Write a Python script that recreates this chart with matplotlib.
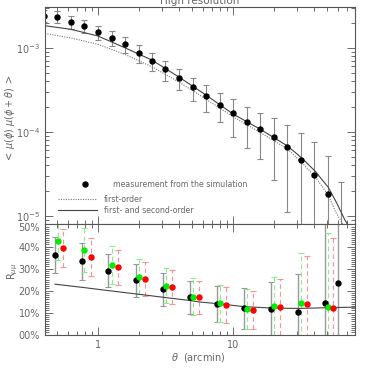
import numpy as np
import matplotlib
matplotlib.use("Agg")
import matplotlib.pyplot as plt
import matplotlib.transforms as mtransforms
from matplotlib.lines import Line2D
from matplotlib.ticker import LogLocator, FixedLocator, MultipleLocator, NullFormatter, FuncFormatter

#### data ####
# top panel: aperture-mass-like correlation <mu(phi) mu(phi+theta)>
theta_sim = [0.40, 0.50, 0.63, 0.79, 1.00, 1.26, 1.58, 2.00, 2.51, 3.16, 3.98, 5.01,
             6.31, 7.94, 10.0, 12.6, 15.8, 20.0, 25.1, 31.6, 39.8, 50.1, 63.1]
mu_sim = [2.40e-3, 2.34e-3, 2.04e-3, 1.81e-3, 1.54e-3, 1.32e-3, 1.10e-3, 8.7e-4,
          6.95e-4, 5.53e-4, 4.32e-4, 3.38e-4, 2.66e-4, 2.10e-4, 1.66e-4, 1.32e-4,
          1.07e-4, 8.6e-5, 6.6e-5, 4.6e-5, 3.1e-5, 1.8e-5, 3.0e-6]
mu_err = [3.8e-4, 3.7e-4, 3.6e-4, 3.3e-4, 3.0e-4, 2.6e-4, 2.4e-4, 2.1e-4, 1.7e-4,
          1.5e-4, 1.2e-4, 1.05e-4, 9.3e-5, 7.8e-5, 7.8e-5, 6.8e-5, 5.9e-5, 5.9e-5,
          5.5e-5, 5.2e-5, 4.4e-5, 3.3e-5, 2.2e-5]

theta_2nd = [0.405, 0.631, 1.0, 1.585, 2.51, 3.98, 6.31, 10.0, 15.8, 25.4, 31.9,
             40.3, 50.8, 58.6, 67.4, 70.3, 74.0]
mu_2nd = [1.83e-3, 1.66e-3, 1.38e-3, 1.0e-3, 7.14e-4, 4.48e-4, 2.74e-4, 1.63e-4,
          1.08e-4, 6.76e-5, 4.96e-5, 3.44e-5, 2.18e-5, 1.42e-5, 8.9e-6, 8.0e-6, 6.0e-6]

theta_1st = [0.405, 0.631, 1.0, 1.585, 2.51, 3.98, 6.31, 10.0, 15.8, 25.4, 31.9,
             40.3, 50.8, 57.5, 64.0, 68.0]
mu_1st = [1.48e-3, 1.31e-3, 1.10e-3, 8.35e-4, 5.94e-4, 3.91e-4, 2.45e-4, 1.51e-4,
          9.9e-5, 6.22e-5, 4.4e-5, 2.97e-5, 1.76e-5, 1.11e-5, 8.4e-6, 6.0e-6]

# bottom panel: R_mumu in percent
theta_black = [0.48, 0.757, 1.19, 1.90, 3.01, 4.80, 7.65, 12.1, 19.1, 30.1, 48.0, 60.3]
R_black = [36.2, 33.2, 29.1, 24.7, 20.6, 16.9, 14.0, 11.9, 11.6, 10.4, 14.2, 23.3]
R_black_err = [8.2, 8.2, 7.7, 7.5, 7.5, 7.5, 8.2, 9.3, 12.2, 17.1, 40.0, 45.0]

theta_green = [0.508, 0.792, 1.28, 2.01, 3.19, 5.08, 8.01, 12.6, 20.1, 31.9, 50.8]
R_green = [42.7, 38.5, 31.6, 26.3, 22.2, 17.2, 14.2, 11.5, 12.8, 14.2, 12.4]
R_green_err = [9.0, 10.0, 8.7, 8.0, 8.0, 8.3, 8.5, 9.0, 13.2, 22.8, 33.7]

theta_red = [0.553, 0.883, 1.40, 2.23, 3.52, 5.60, 8.87, 14.0, 22.3, 35.2, 55.3]
R_red = [39.3, 35.4, 30.6, 25.3, 21.5, 16.9, 13.4, 11.2, 12.4, 13.8, 11.9]
R_red_err = [8.5, 8.6, 8.0, 7.8, 7.7, 7.4, 8.1, 8.8, 12.7, 22.0, 32.0]

theta_Rline = [0.48, 0.757, 1.19, 1.90, 3.01, 4.80, 5.7, 7.65, 12.1, 19.1, 30.1, 48.0, 80.0]
R_line = [22.9, 21.5, 20.0, 18.5, 17.0, 15.5, 14.8, 14.1, 12.7, 12.1, 11.9, 12.2, 12.5]
########################################

txt = '#666666'
axc = '#555555'
plt.rcParams['font.family'] = 'DejaVu Sans'
plt.rcParams['mathtext.fontset'] = 'dejavusans'

fig = plt.figure(figsize=(3.74, 3.74), dpi=100)
ax1 = fig.add_axes([0.1203, 0.401, 0.8289, 0.580])
ax2 = fig.add_axes([0.1203, 0.104, 0.8289, 0.297], sharex=ax1)

#### top panel ####
ax1.set_xscale('log')
ax1.set_yscale('log')
ax1.errorbar(theta_sim, mu_sim, yerr=mu_err, fmt='o', color='black', ms=3.6,
             ecolor='#888888', elinewidth=0.8, capsize=2, capthick=0.8)
ax1.plot(theta_2nd, mu_2nd, color='#444444', lw=0.8)
ax1.plot(theta_1st, mu_1st, color='#777777', lw=0.8, ls=(0, (1, 1.2)))
ax1.set_xlim(0.405, 80)
ax1.set_ylim(8.0e-6, 3.05e-3)

h_pt = Line2D([], [], marker='o', color='black', ls='none', ms=3.6)
h_1 = Line2D([], [], color='#777777', lw=0.8, ls=(0, (1, 1.2)))
h_2 = Line2D([], [], color='#444444', lw=0.8)
leg1 = ax1.legend([h_pt], ['measurement from the simulation'], loc='center left',
                  bbox_to_anchor=(0.065, 0.184), frameon=False, fontsize=5.6,
                  handlelength=5, handletextpad=1.1, borderpad=0, borderaxespad=0,
                  labelcolor=txt)
ax1.add_artist(leg1)
ax1.legend([h_1, h_2], ['first-order', 'first- and second-order'], loc='center left',
           bbox_to_anchor=(0.042, 0.088), frameon=False, fontsize=5.6,
           handlelength=5, handletextpad=0.9, borderpad=0, borderaxespad=0,
           labelspacing=0.25, labelcolor=txt)

#### bottom panel ####
eb = ax2.errorbar(theta_black, R_black, yerr=R_black_err, fmt='o', color='black', ms=3.6,
                  ecolor='#999999', elinewidth=1.0, capsize=2, capthick=0.8)
eg = ax2.errorbar(theta_green, R_green, yerr=R_green_err, fmt='o', color='#00ee00', ms=3.6,
                  ecolor='#88ee88', elinewidth=0.8, capsize=2, capthick=0.8)
er = ax2.errorbar(theta_red, R_red, yerr=R_red_err, fmt='o', color='#ff0000', ms=3.6,
                  ecolor='#ff9090', elinewidth=0.8, capsize=2, capthick=0.8)
for e in (eg, er):
    e[2][0].set_linestyle((0, (4, 3)))
ax2.plot(theta_Rline, R_line, color='#444444', lw=0.8)
ax2.set_ylim(-0.2, 50.2)
ax2.yaxis.set_major_locator(MultipleLocator(10))
ax2.yaxis.set_minor_locator(MultipleLocator(1))
ax2.yaxis.set_major_formatter(FuncFormatter(lambda v, p: '%02d%%' % round(v)))

ax2.xaxis.set_major_locator(FixedLocator([1, 10]))
ax2.xaxis.set_minor_locator(LogLocator(base=10, subs=np.arange(2, 10)))
ax2.xaxis.set_major_formatter(FuncFormatter(lambda v, p: '%d' % v))
ax2.xaxis.set_minor_formatter(NullFormatter())
plt.setp(ax1.get_xticklabels(), visible=False)

ax1.yaxis.set_major_locator(LogLocator(base=10))
ax1.yaxis.set_minor_locator(LogLocator(base=10, subs=np.arange(2, 10)))
ax1.yaxis.set_minor_formatter(NullFormatter())

for ax in (ax1, ax2):
    ax.tick_params(which='both', direction='in', top=True, right=True,
                   color=axc, labelcolor=txt, labelsize=7, width=0.6)
    ax.tick_params(which='major', length=6)
    ax.tick_params(which='minor', length=3)
    for s in ax.spines.values():
        s.set_color(axc)
        s.set_linewidth(0.8)

# the 50% label sits a little below its tick in the original
fig.canvas.draw()
shift = mtransforms.ScaledTranslation(0, -3 / 100, fig.dpi_scale_trans)
for lab in ax2.get_yticklabels():
    if lab.get_text() == '50%':
        lab.set_transform(lab.get_transform() + shift)

fig.text(200 / 374, 1 - 1 / 374, 'High resolution', ha='center', va='center',
         color=txt, fontsize=7.5)
fig.text(10 / 374, 1 - 118 / 374, r'$<\,\mu(\phi)\;\mu(\phi+\theta)\,>$', rotation=90,
         ha='center', va='center', color=txt, fontsize=7)
fig.text(13 / 374, 1 - 271 / 374, r'R$_{\mu\mu}$', rotation=90,
         ha='center', va='center', color=txt, fontsize=7)
fig.text(198 / 374, 1 - 357 / 374, r'$\theta$  (arcmin)', ha='center', va='center',
         color=txt, fontsize=7)

fig.savefig('out.png', dpi=100)
